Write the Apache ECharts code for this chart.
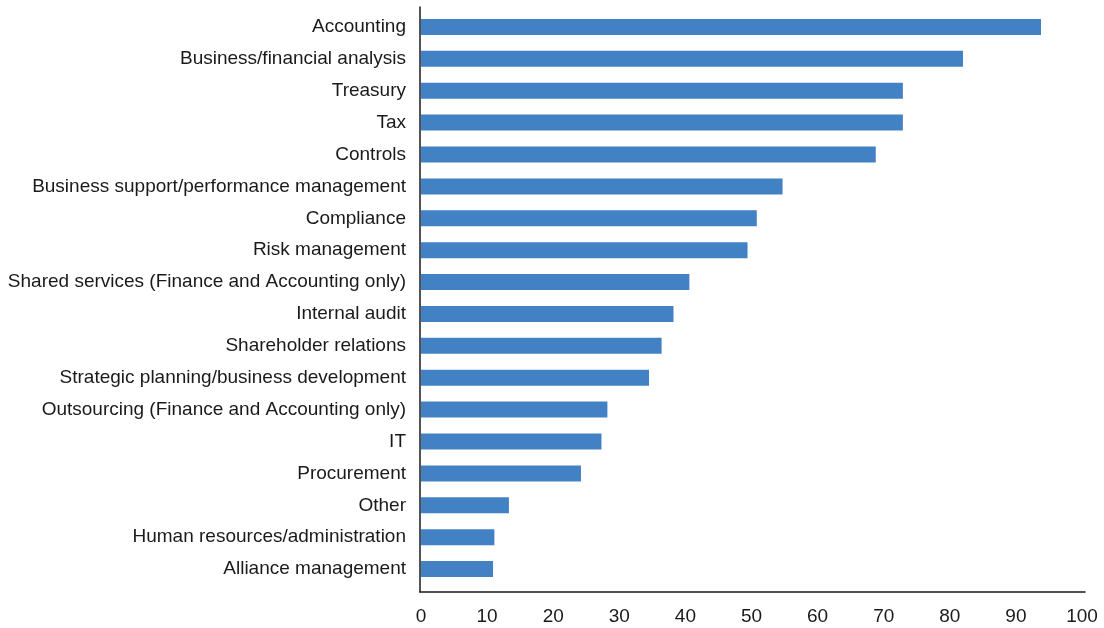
<!DOCTYPE html>
<html>
<head>
<meta charset="utf-8">
<script src="https://cdn.jsdelivr.net/npm/echarts@6/dist/echarts.min.js"></script>
<style>
html,body{margin:0;padding:0;background:#fff;}
#main{width:1104px;height:628px;}
</style>
</head>
<body>
<div id="main"></div>
<script>
const categories = [
  "Accounting",
  "Business/financial analysis",
  "Treasury",
  "Tax",
  "Controls",
  "Business support/performance management",
  "Compliance",
  "Risk management",
  "Shared services (Finance and Accounting only)",
  "Internal audit",
  "Shareholder relations",
  "Strategic planning/business development",
  "Outsourcing (Finance and Accounting only)",
  "IT",
  "Procurement",
  "Other",
  "Human resources/administration",
  "Alliance management"
];
const values = [93.8, 82.0, 72.9, 72.9, 68.8, 54.7, 50.8, 49.4, 40.6, 38.2, 36.4, 34.5, 28.2, 27.3, 24.2, 13.3, 11.1, 10.9];
const xMin = 0, xMax = 100, xStep = 10;

const FONT = "'Liberation Sans Narrow', 'Arial Narrow', 'Liberation Sans', Arial, sans-serif";
const chart = echarts.init(document.getElementById('main'), null, {renderer: 'canvas'});
chart.setOption({
  animation: false,
  backgroundColor: '#ffffff',
  grid: [
    {left: 421, right: 22, top: 11, bottom: 43, outerBoundsMode: 'none', containLabel: false},
    {left: 420, right: 19, top: 7, bottom: 36, outerBoundsMode: 'none', containLabel: false}
  ],
  xAxis: [
    {
      gridIndex: 0, type: 'value', min: xMin, max: xMax, interval: xStep,
      axisLine: {show: false}, axisTick: {show: false}, splitLine: {show: false},
      axisLabel: {color: '#1a1a1a', fontFamily: FONT, fontSize: 19, margin: 22}
    },
    {
      gridIndex: 1, type: 'value', min: xMin, max: xMax, interval: xStep,
      axisLine: {show: true, lineStyle: {color: '#1a1a1a', width: 1.5}},
      axisTick: {show: false}, splitLine: {show: false}, axisLabel: {show: false}
    }
  ],
  yAxis: [
    {
      gridIndex: 0, type: 'category', data: categories, inverse: true,
      axisLine: {show: false}, axisTick: {show: false},
      axisLabel: {color: '#1a1a1a', fontFamily: FONT, fontSize: 19, margin: 15, padding: [3, 0, 0, 0]}
    },
    {
      gridIndex: 1, type: 'value', min: 0, max: 1,
      axisLine: {show: true, lineStyle: {color: '#1a1a1a', width: 1.5}},
      axisTick: {show: false}, splitLine: {show: false}, axisLabel: {show: false}
    }
  ],
  series: [{
    type: 'bar',
    xAxisIndex: 0, yAxisIndex: 0,
    data: values,
    barWidth: 16,
    itemStyle: {color: '#4281c4'}
  }]
});
</script>
</body>
</html>
